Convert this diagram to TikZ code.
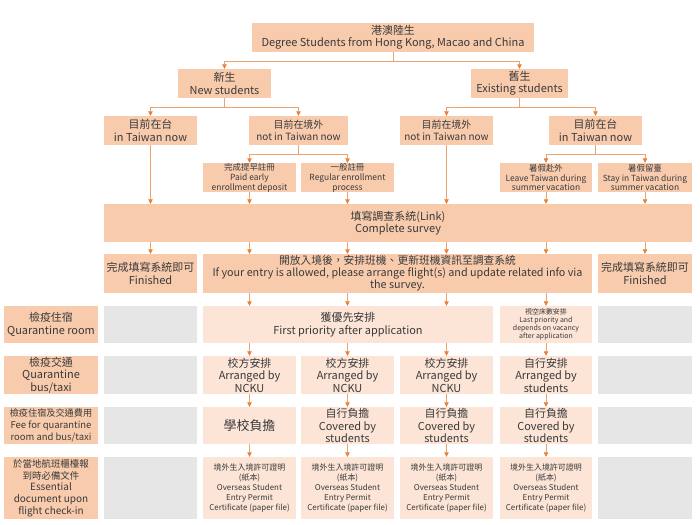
\documentclass[tikz,border=0pt]{standalone}
\usepackage{fontspec}
\setmainfont{Noto Sans CJK TC}
\usetikzlibrary{arrows.meta}
\definecolor{peach}{HTML}{F8CBAD}
\definecolor{pale}{HTML}{FCE4D6}
\definecolor{blank}{HTML}{E7E6E6}
\definecolor{wire}{HTML}{E9A46F}
\definecolor{tip}{HTML}{ED7D31}
\definecolor{ink}{HTML}{3A3A3A}
\newcommand{\szA}{\fontsize{11}{12.5}\selectfont}
\newcommand{\szB}{\fontsize{10}{12}\selectfont}
\newcommand{\szC}{\fontsize{8.5}{10}\selectfont}
\newcommand{\szD}{\fontsize{8}{10.2}\selectfont}
\newcommand{\szE}{\fontsize{7}{8.2}\selectfont}
\newcommand{\szF}{\fontsize{13}{14}\selectfont}
\newcommand{\szG}{\fontsize{9.5}{11.7}\selectfont}
\newcommand{\szH}{\fontsize{10.8}{12}\selectfont}
\newcommand{\szK}{\fontsize{9.2}{11}\selectfont}

\begin{document}
\begin{tikzpicture}[x=1bp,y=-1bp,
  box/.style={rectangle,fill=peach,inner sep=0pt,align=center,text=ink,
    minimum width=93bp,minimum height=29bp,font=\szA},
  soft/.style={box,fill=pale},
  greycell/.style={box,fill=blank},
  conn/.style={draw=wire,line width=0.6pt,
    -{Triangle[length=4.5pt,width=4.5pt,color=tip]}}]
\useasboundingbox (0,0) rectangle (700,525);
% Tree nodes
\node[box,minimum width=282bp] (top) at (393,37.5)
  {港澳陸生\\Degree Students from Hong Kong, Macao and China};
\node[box] (new) at (224.5,83.5) {新生\\New students};
\node[box,minimum width=97bp] (exist) at (519.5,83.5) {舊生\\Existing students};
\node[box] (lt) at (150.5,130.5) {目前在台\\in Taiwan now};
\node[box,minimum width=99bp,font=\szB] (lo) at (298.5,130.5) {目前在境外\\not in Taiwan now};
\node[box,font=\szB] (ro) at (446.5,130.5) {目前在境外\\not in Taiwan now};
\node[box] (rt) at (595.5,130.5) {目前在台\\in Taiwan now};
\node[box,font=\szC] (paid) at (249.5,177.5) {完成提早註冊\\Paid early\\enrollment deposit};
\node[box,font=\szC] (reg) at (347.5,177.5) {一般註冊\\Regular enrollment\\process};
\node[box,minimum width=92bp,font=\szC] (leave) at (546,177.5) {暑假赴外\\Leave Taiwan during\\summer vacation};
\node[box,minimum width=94bp,font=\szC] (stay) at (645,177.5) {暑假留臺\\Stay in Taiwan during\\summer vacation};
\node[box,minimum width=588bp,minimum height=38bp] (survey) at (398,223)
  {填寫調查系統(Link)\\Complete survey};
\node[box,minimum height=39bp] (fin1) at (150.5,273.5) {完成填寫系統即可\\Finished};
\node[box,minimum width=389bp,minimum height=39bp,font=\szH] (open) at (397.5,273.5)
  {開放入境後，安排班機、更新班機資訊至調查系統\\If your entry is allowed, please arrange flight(s) and update related info via\\the survey.};
\node[box,minimum width=94bp,minimum height=39bp] (fin2) at (645,273.5) {完成填寫系統即可\\Finished};
% Table rows
\node[box,minimum width=94bp,minimum height=37bp] (labroom) at (51,324.5) {檢疫住宿\\Quarantine room};
\node[greycell,minimum height=37bp] (room1) at (150.5,324.5) {};
\node[soft,minimum width=290bp,minimum height=37bp] (first) at (348,324.5) {獲優先安排\\First priority after application};
\node[soft,minimum width=92bp,minimum height=37bp,font=\szE] (last) at (546,324.5)
  {視空床數安排\\Last priority and\\depends on vacancy\\after application};
\node[greycell,minimum width=94bp,minimum height=37bp] (room6) at (645,324.5) {};
\node[box,minimum width=94bp,minimum height=38bp] (labbus) at (51,375) {檢疫交通\\Quarantine\\bus/taxi};
\node[greycell,minimum height=38bp] (bus1) at (150.5,375) {};
\node[soft,minimum height=38bp] (bus2) at (249.5,375) {校方安排\\Arranged by\\NCKU};
\node[soft,minimum height=38bp] (bus3) at (347.5,375) {校方安排\\Arranged by\\NCKU};
\node[soft,minimum height=38bp] (bus4) at (446.5,375) {校方安排\\Arranged by\\NCKU};
\node[soft,minimum width=92bp,minimum height=38bp] (bus5) at (546,375) {自行安排\\Arranged by\\students};
\node[greycell,minimum width=94bp,minimum height=38bp] (bus6) at (645,375) {};
\node[box,minimum width=94bp,minimum height=37bp,font=\szG] (labfee) at (51,425.5)
  {{\szK 檢疫住宿及交通費用}\\Fee for quarantine\\room and bus/taxi};
\node[greycell,minimum height=37bp] (fee1) at (150.5,425.5) {};
\node[soft,minimum height=37bp,font=\szF] (fee2) at (249.5,425.5) {學校負擔};
\node[soft,minimum height=37bp] (fee3) at (347.5,425.5) {自行負擔\\Covered by\\students};
\node[soft,minimum height=37bp] (fee4) at (446.5,425.5) {自行負擔\\Covered by\\students};
\node[soft,minimum width=92bp,minimum height=37bp] (fee5) at (546,425.5) {自行負擔\\Covered by\\students};
\node[greycell,minimum width=94bp,minimum height=37bp] (fee6) at (645,425.5) {};
\node[box,minimum width=94bp,minimum height=62bp,font=\szG] (labdoc) at (51,488)
  {於當地航班櫃檯報\\到時必備文件\\{\szB Essential}\\{\szB document upon}\\{\szB flight check-in}};
\node[greycell,minimum height=62bp] (doc1) at (150.5,488) {};
\node[soft,minimum height=62bp,font=\szD] (doc2) at (249.5,488)
  {境外生入境許可證明\\(紙本)\\Overseas Student\\Entry Permit\\Certificate (paper file)};
\node[soft,minimum height=62bp,font=\szD] (doc3) at (347.5,488)
  {境外生入境許可證明\\(紙本)\\Overseas Student\\Entry Permit\\Certificate (paper file)};
\node[soft,minimum height=62bp,font=\szD] (doc4) at (446.5,488)
  {境外生入境許可證明\\(紙本)\\Overseas Student\\Entry Permit\\Certificate (paper file)};
\node[soft,minimum width=92bp,minimum height=62bp,font=\szD] (doc5) at (546,488)
  {境外生入境許可證明\\(紙本)\\Overseas Student\\Entry Permit\\Certificate (paper file)};
\node[greycell,minimum width=94bp,minimum height=62bp] (doc6) at (645,488) {};
% Branches
\draw[conn] (top.south) -- ++(0,9) -| (new.north);
\draw[conn] (top.south) -- ++(0,9) -| (exist.north);
\draw[conn] (new.south) -- ++(0,9) -| (lt.north);
\draw[conn] (new.south) -- ++(0,9) -| (lo.north);
\draw[conn] (exist.south) -- ++(0,9) -| (ro.north);
\draw[conn] (exist.south) -- ++(0,9) -| (rt.north);
\draw[conn] (lo.south) -- ++(0,9) -| (paid.north);
\draw[conn] (lo.south) -- ++(0,9) -| (reg.north);
\draw[conn] (rt.south) -- ++(0,9) -| (leave.north);
\draw[conn] (rt.south) -- ++(0,9) -| (stay.north);
% Into the survey
\draw[conn] (lt.south) -- (lt.south |- survey.north);
\draw[conn] (paid.south) -- (paid.south |- survey.north);
\draw[conn] (reg.south) -- (reg.south |- survey.north);
\draw[conn] (ro.south) -- (ro.south |- survey.north);
\draw[conn] (leave.south) -- (leave.south |- survey.north);
\draw[conn] (stay.south) -- (stay.south |- survey.north);
% Out of the survey
\draw[conn] (survey.south -| fin1) -- (fin1.north);
\draw[conn] (survey.south -| paid) -- (open.north -| paid);
\draw[conn] (survey.south -| reg) -- (open.north -| reg);
\draw[conn] (survey.south -| ro) -- (open.north -| ro);
\draw[conn] (survey.south -| leave) -- (open.north -| leave);
\draw[conn] (survey.south -| fin2) -- (fin2.north);
% Down the table
\draw[conn] (open.south -| bus2) -- (first.north -| bus2);
\draw[conn] (open.south -| bus3) -- (first.north -| bus3);
\draw[conn] (open.south -| bus4) -- (first.north -| bus4);
\draw[conn] (open.south -| last) -- (last.north);
\draw[conn] (first.south -| bus2) -- (bus2.north);
\draw[conn] (first.south -| bus3) -- (bus3.north);
\draw[conn] (first.south -| bus4) -- (bus4.north);
\draw[conn] (last.south) -- (bus5.north);
\draw[conn] (bus2) -- (fee2);
\draw[conn] (bus3) -- (fee3);
\draw[conn] (bus4) -- (fee4);
\draw[conn] (bus5) -- (fee5);
\draw[conn] (fee2) -- (doc2);
\draw[conn] (fee3) -- (doc3);
\draw[conn] (fee4) -- (doc4);
\draw[conn] (fee5) -- (doc5);
\end{tikzpicture}
\end{document}
